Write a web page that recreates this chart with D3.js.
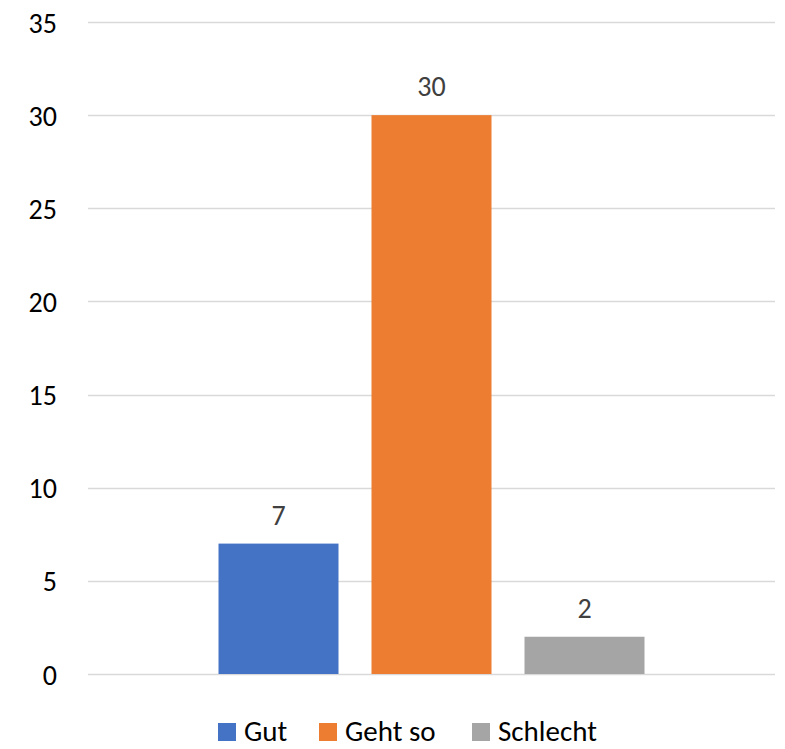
<!DOCTYPE html>
<html>
<head>
<meta charset="utf-8">
<script src="https://cdn.jsdelivr.net/npm/d3@7"></script>
<style>
  html, body { margin: 0; padding: 0; background: #fff; }
  svg { display: block; }
  text { font-family: Carlito, Calibri, Lato, "Open Sans", sans-serif; }
</style>
</head>
<body>
<svg id="chart" width="785" height="749"></svg>
<script>
const series = ["Gut", "Geht so", "Schlecht"];
const values = [7, 30, 2];
const colors = ["#4472C4", "#ED7D31", "#A5A5A5"];
const yTicks = [0, 5, 10, 15, 20, 25, 30, 35];

(function () {
const svg = d3.select("#chart");
const plotLeft = 88, plotRight = 775, plotTop = 22, plotBottom = 674;

const y = d3.scaleLinear().domain([0, 35]).range([plotBottom, plotTop]);
const x = d3.scaleBand().domain(series).range([plotLeft, plotRight])
  .paddingInner(0.2157).paddingOuter(0.853);

// gridlines
svg.append("g").selectAll("line").data(yTicks).join("line")
  .attr("x1", plotLeft).attr("x2", plotRight)
  .attr("y1", d => Math.round(y(d)) + 0.5).attr("y2", d => Math.round(y(d)) + 0.5)
  .attr("stroke", "#D9D9D9").attr("stroke-width", 1.5);

// y axis labels
const yAxis = d3.axisLeft(y).tickValues(yTicks).tickSize(0).tickPadding(0);
const ga = svg.append("g").attr("transform", `translate(57,0)`).call(yAxis);
ga.select(".domain").remove();
ga.selectAll("text").attr("font-size", 28).attr("fill", "#000").attr("dy", "0.36em")
  .style("font-family", "Carlito, Calibri, Lato, 'Open Sans', sans-serif");

// bars
svg.append("g").selectAll("rect").data(series).join("rect")
  .attr("x", d => x(d)).attr("width", x.bandwidth())
  .attr("y", (d, i) => y(values[i]))
  .attr("height", (d, i) => y(0) - y(values[i]))
  .attr("fill", (d, i) => colors[i]);

// data labels
svg.append("g").selectAll("text").data(series).join("text")
  .attr("x", d => x(d) + x.bandwidth() / 2)
  .attr("y", (d, i) => y(values[i]) - 19)
  .attr("text-anchor", "middle").attr("font-size", 28).attr("fill", "#404040")
  .text((d, i) => values[i]);

// legend
const legendX = [218, 319, 472];
const lg = svg.append("g");
series.forEach((s, i) => {
  lg.append("rect").attr("x", legendX[i]).attr("y", 723).attr("width", 18).attr("height", 18)
    .attr("fill", colors[i]);
  lg.append("text").attr("x", legendX[i] + 26).attr("y", 741)
    .attr("font-size", 29).attr("fill", "#000").text(s);
});
})();
</script>
</body>
</html>
